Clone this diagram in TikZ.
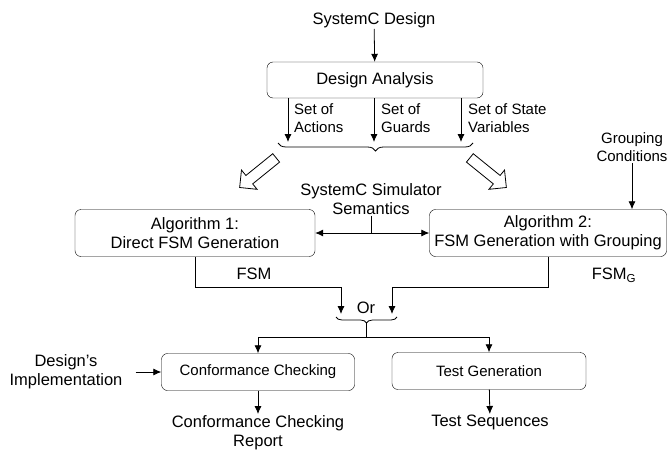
\documentclass[tikz,border=0pt]{standalone}
\usepackage{fontspec}
\setmainfont{Liberation Sans}
\usetikzlibrary{arrows.meta,decorations.pathreplacing,shapes.arrows}
\begin{document}
\begin{tikzpicture}[
    x=1pt, y=-1pt,
    node distance=60pt,
    box/.style={rectangle, draw, rounded corners=6pt, fill=white, align=center, inner sep=2pt, font=\fontsize{16.5}{19}\selectfont},
    smallbox/.style={box, font=\fontsize{15}{18}\selectfont},
    txt/.style={align=center, inner sep=1pt, font=\fontsize{16.5}{19}\selectfont},
    lbl/.style={align=left, inner sep=1pt, font=\fontsize{15}{18.5}\selectfont},
    arrow/.style={->, >={Latex[length=8pt,width=7pt]}, line width=0.8pt},
    line/.style={line width=0.8pt},
    brace/.style={decorate, decoration={brace, mirror, amplitude=#1}, line width=0.8pt},
    hollow/.style={single arrow, draw, line width=0.8pt, inner xsep=0pt, inner ysep=5pt, minimum width=24pt, minimum height=47pt, single arrow head extend=7pt}
  ]
  \useasboundingbox (0,0) rectangle (668,460);

  % Design analysis part
  \node[txt] (scd) at (374,20) {SystemC Design};
  \node[box, minimum width=216pt, minimum height=36pt] (da) at (375,80) {Design Analysis};
  \draw[arrow] (scd) -- (da);

  \coordinate (actEnd) at (288,142);
  \coordinate (grdEnd) at (374,142);
  \coordinate (varEnd) at (461,142);
  \draw[arrow] (da.south -| actEnd) -- (actEnd);
  \draw[arrow] (da.south -| grdEnd) -- (grdEnd);
  \draw[arrow] (da.south -| varEnd) -- (varEnd);
  \node[lbl, anchor=west] (actLbl) at (293,118) {Set of\\Actions};
  \node[lbl, anchor=west] (grdLbl) at (380,118) {Set of\\Guards};
  \node[lbl, anchor=west] (varLbl) at (467,118) {Set of State\\Variables};

  \coordinate (setsL) at (278,143);
  \coordinate (setsR) at (473,143);
  \draw[brace=8pt] (setsL) -- (setsR);

  \node[hollow, rotate=219] (toAlg1) at (260,171) {};
  \node[hollow, rotate=321] (toAlg2) at (486,171) {};

  % FSM generation
  \node[txt] (sem) at (371,199) {SystemC Simulator\\Semantics};
  \node[box, minimum width=240pt, minimum height=47pt] (alg1) at (195,233) {Algorithm 1:\\Direct FSM Generation};
  \node[box, minimum width=237pt, minimum height=47pt] (alg2) at (548,233) {Algorithm 2:\\FSM Generation with Grouping};
  \draw[arrow, <->] (alg1) -- (alg2);
  \draw[line] (sem) -- (sem |- alg1);

  \node[lbl, align=center] (grp) at (632,147) {Grouping\\Conditions};
  \draw[arrow] (grp) -- (alg2.north -| grp);

  \coordinate (fsmJoin) at (341,287);
  \coordinate (fsmEnd) at (341,314);
  \coordinate (fsmgJoin) at (392,287);
  \coordinate (fsmgEnd) at (392,314);
  \draw[arrow] (alg1.south) |- (fsmJoin) -- (fsmEnd);
  \draw[arrow] (alg2.south) |- (fsmgJoin) -- (fsmgEnd);
  \node[txt] (fsm) at (254,274) {FSM};
  \node[txt] (fsmg) at (614,275) {FSM\textsubscript{G}};

  % Or
  \node[txt] (or) at (366,308) {Or};
  \coordinate (orL) at (336,317);
  \coordinate (orR) at (397,317);
  \draw[brace=6pt] (orL) -- (orR);
  \coordinate (orTip) at (366,323);
  \coordinate (orJoin) at (366,337);

  % Checking and generation
  \node[smallbox, minimum width=193pt, minimum height=37pt] (cc) at (258,372) {Conformance Checking};
  \node[smallbox, minimum width=194pt, minimum height=37pt] (tg) at (489,371) {Test Generation};
  \draw[line] (orTip) -- (orJoin);
  \draw[arrow] (orJoin) -| (cc.north);
  \draw[arrow] (orJoin) -| (tg.north);

  \node[txt] (impl) at (66,372) {Design's\\Implementation};
  \draw[arrow] (impl.east) ++(12,0) coordinate (implOut) (implOut) -- (cc.west);

  \node[txt, anchor=north] (rep) at (258,414) {Conformance Checking\\Report};
  \node[txt, anchor=north] (seq) at (490,414) {Test Sequences};
  \draw[arrow] (cc) -- (rep);
  \draw[arrow] (tg) -- (seq);
\end{tikzpicture}
\end{document}
